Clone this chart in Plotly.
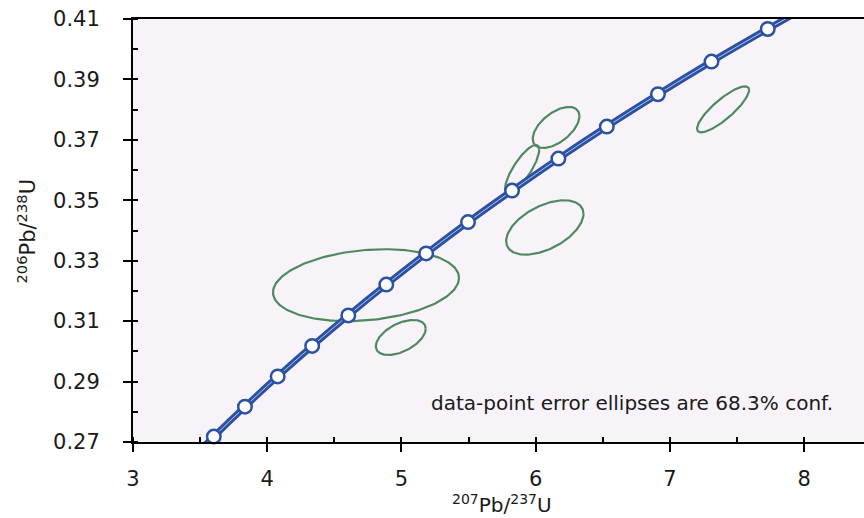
import numpy as np
import plotly.graph_objects as go

# Concordia curve (207Pb/235U, 206Pb/238U), 50 Ma steps 1500-2300 Ma
conc_x = [3.381, 3.602, 3.834, 4.078, 4.335, 4.604, 4.887, 5.184, 5.496,
          5.824, 6.169, 6.530, 6.911, 7.310, 7.729, 8.170, 8.633]
conc_y = [0.2620, 0.2718, 0.2817, 0.2917, 0.3018, 0.3119, 0.3221, 0.3324,
          0.3428, 0.3532, 0.3638, 0.3744, 0.3851, 0.3959, 0.4067, 0.4177, 0.4287]
# age markers (1550-2200 Ma)
mark_x = [3.602, 3.834, 4.078, 4.335, 4.604, 4.887, 5.184, 5.496,
          5.824, 6.169, 6.530, 6.911, 7.310, 7.729]
mark_y = [0.2718, 0.2817, 0.2917, 0.3018, 0.3119, 0.3221, 0.3324,
          0.3428, 0.3532, 0.3638, 0.3744, 0.3851, 0.3959, 0.4067]

# Error ellipses: centre, half-extent in x and y, correlation
ell_cx = [4.736, 4.995, 6.152, 5.899, 6.068, 7.396]
ell_cy = [0.3219, 0.3046, 0.3741, 0.3603, 0.3410, 0.3801]
ell_a = [0.693, 0.186, 0.174, 0.127, 0.288, 0.194]
ell_b = [0.0119, 0.0058, 0.0068, 0.0080, 0.0090, 0.0076]
ell_rho = [0.20, 0.50, 0.55, 0.80, 0.50, 0.84]

y_ticks = [0.27, 0.29, 0.31, 0.33, 0.35, 0.37, 0.39, 0.41]
y_ticktext = ["0.27", "0.29", "0.31", "0.33", "0.35", "0.37", "0.39", "0.41"]
x_ticks = [3, 4, 5, 6, 7, 8]
x_ticktext = ["3", "4", "5", "6", "7", "8"]

FONT = "DejaVu Sans"
BLUE = "#2a51a2"
GREEN = "#4f8a5f"
TXT = "#1a1a1a"

fig = go.Figure()

t = np.linspace(0, 2 * np.pi, 200)
for cx, cy, a, b, r in zip(ell_cx, ell_cy, ell_a, ell_b, ell_rho):
    ex = cx + a * np.cos(t)
    ey = cy + b * (r * np.cos(t) + np.sqrt(1 - r * r) * np.sin(t))
    fig.add_trace(go.Scatter(x=ex, y=ey, mode="lines",
                             line=dict(color=GREEN, width=2.2),
                             hoverinfo="skip", showlegend=False))

fig.add_trace(go.Scatter(x=conc_x, y=conc_y, mode="lines",
                         line=dict(color=BLUE, width=6.5, shape="spline"),
                         hoverinfo="skip", showlegend=False))
fig.add_trace(go.Scatter(x=conc_x, y=conc_y, mode="lines",
                         line=dict(color="#b9c7e6", width=1, shape="spline"),
                         hoverinfo="skip", showlegend=False))
fig.add_trace(go.Scatter(x=mark_x, y=mark_y, mode="markers",
                         marker=dict(size=13.5, color="white",
                                     line=dict(color=BLUE, width=2.5)),
                         cliponaxis=False, showlegend=False))

fig.add_annotation(x=6.718, y=0.2829, xref="x", yref="y",
                   text="data-point error ellipses are 68.3% conf.",
                   showarrow=False, xanchor="center", yanchor="middle",
                   font=dict(family=FONT, size=20, color=TXT))
fig.add_annotation(x=(26 - 133) / 731, y=0.5, xref="paper", yref="paper",
                   text="<sup>206</sup>Pb/<sup>238</sup>U", textangle=-90,
                   showarrow=False, xanchor="center", yanchor="middle",
                   font=dict(family=FONT, size=21, color=TXT))
fig.add_annotation(x=(502 - 133) / 731, y=(442 - 504) / 423, xref="paper", yref="paper",
                   text="<sup>207</sup>Pb/<sup>237</sup>U",
                   showarrow=False, xanchor="center", yanchor="middle",
                   font=dict(family=FONT, size=20, color=TXT))

axis_common = dict(showgrid=False, zeroline=False, showline=True,
                   linecolor="black", linewidth=2,
                   ticks="outside", ticklen=8, tickwidth=2, tickcolor="black",
                   tickfont=dict(family=FONT, size=21, color=TXT))

fig.update_xaxes(range=[3, 8.446], tickvals=x_ticks, ticktext=x_ticktext,
                 mirror=True, ticklabelstandoff=9,
                 minor=dict(dtick=0.5, tick0=3, ticks="inside", ticklen=5,
                            tickwidth=1.5, tickcolor="black"),
                 **axis_common)
fig.update_yaxes(range=[0.27, 0.41], tickvals=y_ticks, ticktext=y_ticktext,
                 ticklabelstandoff=19,
                 minor=dict(dtick=0.01, tick0=0.27, ticks="inside", ticklen=5,
                            tickwidth=1.5, tickcolor="black"),
                 **axis_common)

fig.update_layout(width=864, height=518,
                  margin=dict(l=133, r=0, t=19, b=76),
                  plot_bgcolor="#f8f3f8", paper_bgcolor="white",
                  showlegend=False)

fig.write_html("out.html")
